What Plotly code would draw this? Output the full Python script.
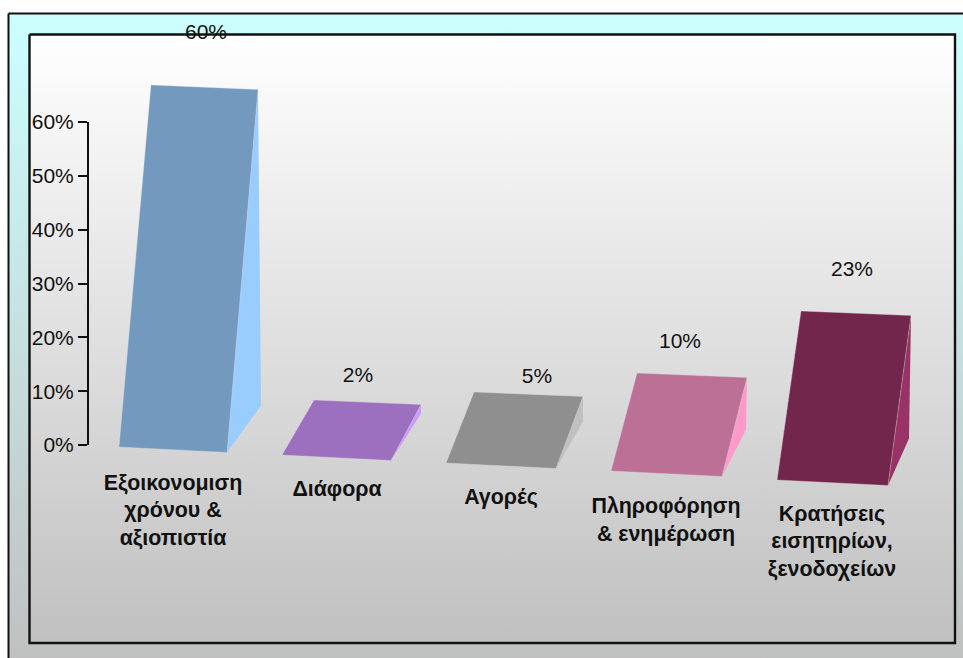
import plotly.graph_objects as go

# Data
categories = ["Εξοικονομιση<br>χρόνου &<br>αξιοπιστία", "Διάφορα", "Αγορές",
              "Πληροφόρηση<br>& ενημέρωση", "Κρατήσεις<br>εισητηρίων,<br>ξενοδοχείων"]
values = [60, 2, 5, 10, 23]
tick_values = [0, 10, 20, 30, 40, 50, 60]
tick_labels = ["0%", "10%", "20%", "30%", "40%", "50%", "60%"]

# Style: colours and layout of the pseudo-3D bars (page pixels)
front_colors = ["#7399bf", "#9c70bf", "#8f8f8f", "#bd7096", "#73264b"]
side_colors = ["#99ccff", "#cc99ff", "#c0c0c0", "#ff99cc", "#993366"]
W, H = 963, 658
ZERO_PX, PX_PER_UNIT = 445.0, 323.0 / 60
base_left = [119, 282, 446, 611, 777]
base_y = [447, 455, 463, 471, 480]
front_w = [108, 109, 110, 111, 111]
lean_l = [32, 32, 28, 26, 24]
lean_r = [31, 30, 27, 25, 23]
depth_px = [39, 44.2, 44.1, 44.2, 45.2]
side_px = [3, 0, 0, -1, -2]
cat_x = [173, 337, 501, 666, 832]
cat_py = [512, 491, 499, 522, 543]
val_x = [206, 358, 537, 680, 852]
val_py = [34, 377, 378, 343, 271]


def u(py):
    """Page pixel row to value-axis units."""
    return (ZERO_PX - py) / PX_PER_UNIT


fig = go.Figure()


def panel(x0, y0, x1, y1, top, bottom, lw):
    fig.add_trace(go.Scatter(
        x=[x0, x1, x1, x0, x0], y=[u(y0), u(y0), u(y1), u(y1), u(y0)],
        mode="lines", fill="toself", line=dict(color="#111111", width=lw),
        fillgradient=dict(type="vertical", colorscale=[[0, bottom], [1, top]]),
        hoverinfo="skip", showlegend=False))


panel(8.5, 13.5, 990, 662, "#ccffff", "#c0c0c0", 2)
panel(29.5, 34.5, 955, 643, "#ffffff", "#c0c0c0", 2.4)

for i, v in enumerate(values):
    bl_x, bl_y = base_left[i], u(base_y[i])
    br_x, br_y = bl_x + front_w[i], u(base_y[i] + 5.5)
    rise = v + depth_px[i] / PX_PER_UNIT
    tl_x, tl_y = bl_x + lean_l[i], bl_y + rise
    tr_x, tr_y = br_x + lean_r[i], tl_y - 4.5 / PX_PER_UNIT
    sb_x, sb_y = tr_x + side_px[i], br_y + 47 / PX_PER_UNIT
    fig.add_trace(go.Scatter(
        x=[br_x, tr_x, sb_x, br_x], y=[br_y, tr_y, sb_y, br_y],
        mode="lines", fill="toself", fillcolor=side_colors[i],
        line=dict(width=0), hoverinfo="skip", showlegend=False))
    fig.add_trace(go.Scatter(
        x=[bl_x, br_x, tr_x, tl_x, bl_x], y=[bl_y, br_y, tr_y, tl_y, bl_y],
        mode="lines", fill="toself", fillcolor=front_colors[i],
        line=dict(width=0.6, color="rgba(220,220,220,0.6)"),
        hoverinfo="skip", showlegend=False))

fig.add_trace(go.Scatter(
    x=val_x, y=[u(p) for p in val_py], mode="text",
    text=[f"{v}%" for v in values],
    textfont=dict(family="Liberation Sans, Arial", size=21, color="#111111"),
    hoverinfo="skip", showlegend=False))
fig.add_trace(go.Scatter(
    x=cat_x, y=[u(p) for p in cat_py], mode="text", text=categories,
    textfont=dict(family="Liberation Sans, Arial", size=21.4, color="#111111", weight="bold"),
    hoverinfo="skip", showlegend=False))

# Value axis carrier
fig.add_trace(go.Scatter(x=[88] * len(tick_values), y=tick_values, yaxis="y2",
                         mode="markers", marker=dict(opacity=0),
                         hoverinfo="skip", showlegend=False))

fig.update_layout(
    template="none",
    width=W, height=H, autosize=False,
    margin=dict(l=0, r=0, t=0, b=0, pad=0),
    paper_bgcolor="#ffffff", plot_bgcolor="rgba(0,0,0,0)",
    xaxis=dict(range=[0, W], visible=False, fixedrange=True, domain=[0, 1], automargin=False),
    yaxis=dict(range=[u(H), u(0)], visible=False, fixedrange=True, domain=[0, 1], automargin=False),
    yaxis2=dict(range=[0, 60], domain=[(H - ZERO_PX) / H, (H - 122) / H],
                anchor="free", position=88 / W, side="left", automargin=False,
                tickmode="array", tickvals=tick_values, ticktext=tick_labels,
                ticks="outside", ticklen=9, tickwidth=2, tickcolor="#111111",
                showline=True, linecolor="#111111", linewidth=2, showgrid=False,
                zeroline=False, fixedrange=True,
                tickfont=dict(family="Liberation Sans, Arial", size=21, color="#111111")),
)
fig.write_html("out.html", config=dict(displayModeBar=False),
               post_script="document.body.style.margin='0';document.documentElement.style.overflow='hidden';")
